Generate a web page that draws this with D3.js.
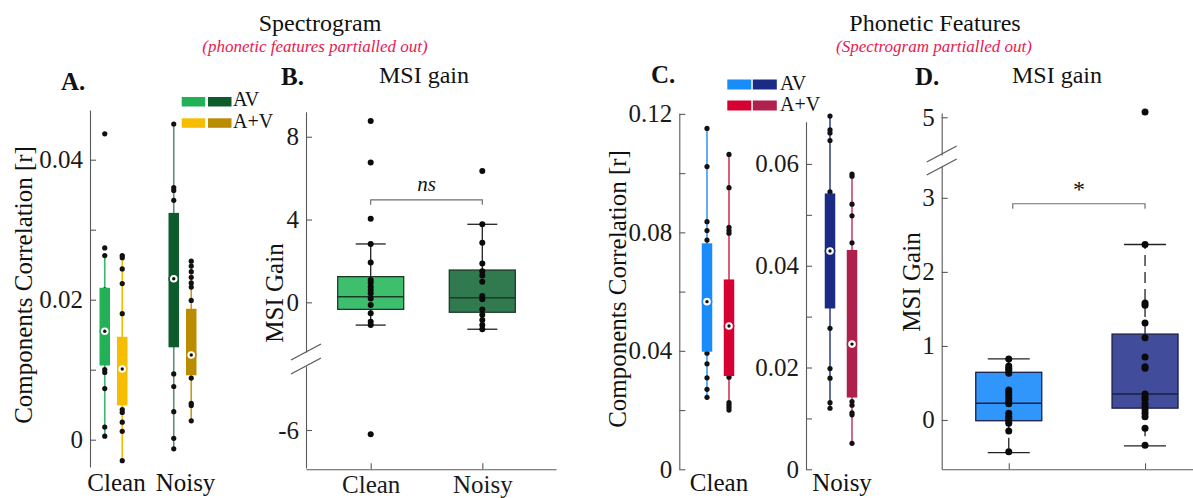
<!DOCTYPE html>
<html>
<head>
<meta charset="utf-8">
<script src="https://cdn.jsdelivr.net/npm/d3@7"></script>
<style>
  body { margin: 0; background: #fff; }
  svg { display: block; }
</style>
</head>
<body>
<svg id="fig" width="1193" height="498"></svg>
<script>
// ---- data ----
const conditions = ["Clean", "Noisy"];
const models = ["AV", "A+V"];

// box stats: [whisker low, q1, median, q3, whisker high]
// A. Spectrogram, components correlation
const specBoxCleanAV = [0.0005, 0.0106, 0.0155, 0.0217, 0.0265];
const specBoxCleanAplusV = [-0.0030, 0.0049, 0.0101, 0.0147, 0.0263];
const specBoxNoisyAV = [-0.0013, 0.0132, 0.0230, 0.0324, 0.0451];
const specBoxNoisyAplusV = [0.0027, 0.0092, 0.0121, 0.0187, 0.0255];
const specPtsCleanAV = [0.0437, 0.0274, 0.0263, 0.0214, 0.0190, 0.0170, 0.0140, 0.0120, 0.0100, 0.0096, 0.0073, 0.0018, 0.0005];
const specPtsCleanAplusV = [0.0263, 0.0260, 0.0244, 0.0223, 0.0180, 0.0130, 0.0110, 0.0080, 0.0060, 0.0043, 0.0039, 0.0025, 0.0012, -0.0030];
const specPtsNoisyAV = [0.0451, 0.0360, 0.0356, 0.0342, 0.0300, 0.0260, 0.0200, 0.0160, 0.0094, 0.0076, 0.0040, 0.0002, -0.0013];
const specPtsNoisyAplusV = [0.0255, 0.0248, 0.0240, 0.0232, 0.0224, 0.0218, 0.0199, 0.0160, 0.0130, 0.0088, 0.0052, 0.0049, 0.0027];

// B. Spectrogram, MSI gain
const specGainBoxClean = [-1.10, -0.34, 0.27, 1.24, 2.82];
const specGainBoxNoisy = [-1.30, -0.48, 0.22, 1.56, 3.77];
const specGainClean = [8.76, 6.76, 4.04, 2.82, 1.93, 1.08, 0.95, 0.75, 0.59, 0.43, 0.19, -0.13, -0.53, -0.94, -1.10, -6.2];
const specGainNoisy = [6.34, 3.77, 2.88, 1.88, 1.5, 1.3, 1.0, 0.3, 0.15, -0.35, -0.6, -0.85, -1.1, -1.3];

// C. Phonetic features, components correlation
const phonBoxCleanAV = [0.0243, 0.0397, 0.0566, 0.0763, 0.1151];
const phonBoxCleanAplusV = [0.0200, 0.0315, 0.0484, 0.0641, 0.1063];
const phonBoxNoisyAV = [0.0120, 0.0316, 0.0429, 0.0542, 0.0694];
const phonBoxNoisyAplusV = [0.0051, 0.0141, 0.0246, 0.0431, 0.0580];
const phonPtsCleanAV = [0.1151, 0.1022, 0.0836, 0.0806, 0.0774, 0.0650, 0.0520, 0.0392, 0.0356, 0.0309, 0.0270, 0.0243];
const phonPtsCleanAplusV = [0.1063, 0.0951, 0.0817, 0.0806, 0.0797, 0.0560, 0.0420, 0.0311, 0.0225, 0.0217, 0.0209, 0.0200];
const phonPtsNoisyAV = [0.0694, 0.0667, 0.0661, 0.0646, 0.0545, 0.0480, 0.0380, 0.0277, 0.0198, 0.0179, 0.0131, 0.0120];
const phonPtsNoisyAplusV = [0.0580, 0.0576, 0.0521, 0.0498, 0.0445, 0.0350, 0.0200, 0.0133, 0.0126, 0.0111, 0.0107, 0.0051];

// D. Phonetic features, MSI gain
const phonGainBoxClean = [-0.44, -0.01, 0.225, 0.644, 0.824];
const phonGainBoxNoisy = [-0.35, 0.16, 0.35, 1.16, 2.37];
const phonGainClean = [0.824, 0.73, 0.70, 0.67, 0.63, 0.405, 0.37, 0.33, 0.29, 0.25, 0.22, 0.09, 0.05, 0.02, -0.01, -0.045, -0.15, -0.43];
const phonGainNoisy = [5.07, 2.37, 1.58, 1.55, 1.31, 1.11, 0.85, 0.72, 0.70, 0.35, 0.31, 0.28, 0.22, 0.18, 0.135, 0.09, 0.045, -0.11, -0.34];

// ---- drawing ----
const FONT = '"Liberation Serif","Times New Roman",serif';
const AXIS = "#5a5a5a";
const svg = d3.select("#fig").attr("font-family", FONT);

function styleAxis(g) {
  g.attr("font-family", FONT).attr("font-size", 25);
  g.selectAll(".domain, .tick line").attr("stroke", AXIS).attr("stroke-width", 1.1);
  g.selectAll(".tick text").attr("fill", "#1a1a1a");
}

function leftAxis(scale, x, ticks, labeled) {
  const g = svg.append("g")
    .attr("transform", `translate(${x},0)`)
    .call(d3.axisLeft(scale).tickValues(ticks).tickSize(-6).tickSizeOuter(0).tickPadding(7)
      .tickFormat((d) => (labeled.includes(d) ? String(d) : "")));
  styleAxis(g);
  return g;
}

function bottomAxis(scale, y, labels) {
  const g = svg.append("g")
    .attr("transform", `translate(0,${y})`)
    .call(d3.axisBottom(scale).tickSize(-6).tickSizeOuter(0).tickPadding(8)
      .tickFormat((d) => (labels ? d : "")));
  styleAxis(g);
  g.selectAll(".tick text").attr("dy", "0.62em");
  return g;
}

function text(x, y, str, opts = {}) {
  return svg.append("text")
    .attr("x", x).attr("y", y)
    .attr("text-anchor", opts.anchor || "middle")
    .attr("font-size", opts.size || 25)
    .attr("font-weight", opts.weight || null)
    .attr("font-style", opts.style || null)
    .attr("fill", opts.fill || "#111")
    .text(str);
}

function yLabel(x, y, str) {
  svg.append("text")
    .attr("transform", `translate(${x},${y}) rotate(-90)`)
    .attr("text-anchor", "middle")
    .attr("font-size", 25)
    .attr("fill", "#111")
    .text(str);
}

function axisBreak(x, y) {
  svg.append("line")
    .attr("x1", x - 15).attr("y1", y + 8)
    .attr("x2", x + 15).attr("y2", y - 8)
    .attr("stroke", AXIS).attr("stroke-width", 1.2);
}

// compact style boxplot (thick bar, ring median)
function drawCompact(rows, xMain, xSub, yFor, colors, whisk) {
  rows.forEach((r) => {
    const y = yFor(r.cond);
    const cx = xMain(r.cond) + xSub(r.model);
    const key = r.cond + r.model;
    const [lo, q1, med, q3, hi] = r.box;
    svg.append("line")
      .attr("x1", cx).attr("x2", cx).attr("y1", y(lo)).attr("y2", y(hi))
      .attr("stroke", whisk[key]).attr("stroke-width", 1.6);
    svg.append("g").selectAll("circle").data(r.pts).join("circle")
      .attr("cx", cx).attr("cy", (d) => y(d)).attr("r", 2.6).attr("fill", "#111");
    svg.append("rect")
      .attr("x", cx - 5.25).attr("width", 10.5)
      .attr("y", y(q3)).attr("height", y(q1) - y(q3))
      .attr("fill", colors[key]);
    svg.append("circle").attr("cx", cx).attr("cy", y(med)).attr("r", 4.6)
      .attr("fill", "#fff").attr("stroke", colors[key]).attr("stroke-width", 1.6);
    svg.append("circle").attr("cx", cx).attr("cy", y(med)).attr("r", 1.7).attr("fill", "#111");
  });
}

// classic boxplot with caps
function drawClassic(rows, x, y, fills, stroke, boxW, capW, dash, pr) {
  rows.forEach((r) => {
    const cx = x(r.cond);
    const [lo, q1, med, q3, hi] = r.box;
    const wl = svg.append("g").attr("stroke", "#222").attr("stroke-width", 1.3);
    wl.append("line").attr("x1", cx).attr("x2", cx).attr("y1", y(q3)).attr("y2", y(hi)).attr("stroke-dasharray", dash);
    wl.append("line").attr("x1", cx).attr("x2", cx).attr("y1", y(q1)).attr("y2", y(lo)).attr("stroke-dasharray", dash);
    wl.append("line").attr("x1", cx - capW / 2).attr("x2", cx + capW / 2).attr("y1", y(hi)).attr("y2", y(hi));
    wl.append("line").attr("x1", cx - capW / 2).attr("x2", cx + capW / 2).attr("y1", y(lo)).attr("y2", y(lo));
    svg.append("rect")
      .attr("x", cx - boxW / 2).attr("width", boxW)
      .attr("y", y(q3)).attr("height", y(q1) - y(q3))
      .attr("fill", fills[r.cond]).attr("stroke", stroke).attr("stroke-width", 1.3);
    svg.append("line")
      .attr("x1", cx - boxW / 2).attr("x2", cx + boxW / 2).attr("y1", y(med)).attr("y2", y(med))
      .attr("stroke", stroke).attr("stroke-width", 1.4);
    svg.append("g").selectAll("circle").data(r.pts).join("circle")
      .attr("cx", cx).attr("cy", (d) => y(d)).attr("r", pr).attr("fill", "#0a0a0a");
  });
}

function bracket(x1, x2, yv, label, italic) {
  const g = svg.append("g").attr("stroke", "#707070").attr("stroke-width", 1.2).attr("fill", "none");
  g.append("path").attr("d", `M${x1},${yv + 5}V${yv}H${x2}V${yv + 5}`);
  text((x1 + x2) / 2, yv - (italic ? 9 : 7), label, { size: italic ? 21 : 24, style: italic ? "italic" : null });
}

// ---------- headers ----------
text(320, 31, "Spectrogram", { size: 24 });
text(315, 52, "(phonetic features partialled out)", { size: 17, style: "italic", fill: "#e8194f" });
text(935, 31, "Phonetic Features", { size: 24 });
text(934, 52, "(Spectrogram partialled out)", { size: 17, style: "italic", fill: "#e8194f" });

// ---------- Panel A ----------
const yA = d3.scaleLinear().domain([-0.0039, 0.0471]).range([467, 110]);
const xA = d3.scalePoint().domain(conditions).range([113.5, 182.5]);
const xAsub = d3.scalePoint().domain(models).range([-8.75, 8.75]);
leftAxis(yA, 90, [0, 0.01, 0.02, 0.03, 0.04], [0, 0.02, 0.04]);
const specRows = [
  { cond: "Clean", model: "AV", box: specBoxCleanAV, pts: specPtsCleanAV },
  { cond: "Clean", model: "A+V", box: specBoxCleanAplusV, pts: specPtsCleanAplusV },
  { cond: "Noisy", model: "AV", box: specBoxNoisyAV, pts: specPtsNoisyAV },
  { cond: "Noisy", model: "A+V", box: specBoxNoisyAplusV, pts: specPtsNoisyAplusV },
];
const specColors = { CleanAV: "#22b157", "CleanA+V": "#f7bd00", NoisyAV: "#0e5c2c", "NoisyA+V": "#bb8c00" };
const specWhisk = { CleanAV: "#3bb66a", "CleanA+V": "#f0c000", NoisyAV: "#5f8e7e", "NoisyA+V": "#c59a10" };
drawCompact(specRows, xA, xAsub, () => yA, specColors, specWhisk);
conditions.forEach((c) => text(xA(c) + 3, 491, c));
yLabel(32, 285, "Components Correlation [r]");
text(61, 90, "A.", { anchor: "start", size: 25, weight: "bold" });
// legend A
models.forEach((m, i) => {
  conditions.forEach((c, j) => {
    svg.append("rect").attr("x", 181.7 + j * 26.3).attr("y", 97 + i * 21.3)
      .attr("width", 23.5).attr("height", 9.5).attr("fill", specColors[c + m]);
  });
  text(233, 106 + i * 21.5, m, { anchor: "start", size: 20 });
});

// ---------- Panel B ----------
const xB = d3.scalePoint().domain(conditions).range([306, 556]).padding(0.62).align(0.4675);
const yBtop = d3.scaleLinear().domain([-2.4, 9.21]).range([352, 111.7]);
const yBbot = d3.scaleLinear().domain([-7.84, -2.9]).range([468, 366]);
const yB = (v) => (v > -2.6 ? yBtop(v) : yBbot(v));
leftAxis(yBtop, 306, [0, 4, 8], [0, 4, 8]);
leftAxis(yBbot, 306, [-6], [-6]);
axisBreak(306, 352);
axisBreak(306, 366);
bottomAxis(xB, 469.3, true);
drawClassic(
  [
    { cond: "Clean", box: specGainBoxClean, pts: specGainClean },
    { cond: "Noisy", box: specGainBoxNoisy, pts: specGainNoisy },
  ],
  xB, yB, { Clean: "#3dbf6e", Noisy: "#317a4f" }, "#1d3a29", 66, 30, null, 3
);
bracket(xB("Clean"), xB("Noisy"), yB(4.95), "ns", true);
yLabel(283, 293, "MSI Gain");
text(424, 83, "MSI gain", { size: 24 });
text(281, 85, "B.", { anchor: "start", size: 25, weight: "bold" });

// ---------- Panel C ----------
const yCleft = d3.scaleLinear().domain([0, 0.1202]).range([469.3, 113.3]);
const yCright = d3.scaleLinear().domain([0, 0.0683]).range([469.3, 121.7]);
const xC = d3.scalePoint().domain(conditions).range([718, 841]);
const xCsub = d3.scalePoint().domain(models).range([-11, 11]);
leftAxis(yCleft, 679.3, [0, 0.02, 0.04, 0.06, 0.08, 0.1, 0.12], [0, 0.04, 0.08, 0.12]);
leftAxis(yCright, 806, [0, 0.01, 0.02, 0.03, 0.04, 0.05, 0.06], [0, 0.02, 0.04, 0.06]);
const phonRows = [
  { cond: "Clean", model: "AV", box: phonBoxCleanAV, pts: phonPtsCleanAV },
  { cond: "Clean", model: "A+V", box: phonBoxCleanAplusV, pts: phonPtsCleanAplusV },
  { cond: "Noisy", model: "AV", box: phonBoxNoisyAV, pts: phonPtsNoisyAV },
  { cond: "Noisy", model: "A+V", box: phonBoxNoisyAplusV, pts: phonPtsNoisyAplusV },
];
const phonColors = { CleanAV: "#198cfa", "CleanA+V": "#d60032", NoisyAV: "#1a2a85", "NoisyA+V": "#b0204d" };
const phonWhisk = { CleanAV: "#3a98f5", "CleanA+V": "#d8335a", NoisyAV: "#3b4a8c", "NoisyA+V": "#c4486c" };
drawCompact(phonRows, xC, xCsub, (c) => (c === "Clean" ? yCleft : yCright), phonColors, phonWhisk);
conditions.forEach((c) => text(xC(c) + 1, 491, c));
yLabel(626, 289, "Components Correlation [r]");
text(651, 83, "C.", { anchor: "start", size: 25, weight: "bold" });
models.forEach((m, i) => {
  conditions.forEach((c, j) => {
    svg.append("rect").attr("x", 727.3 + j * 25.5).attr("y", 79.5 + i * 21)
      .attr("width", 24).attr("height", 10).attr("fill", phonColors[c + m]);
  });
  text(780, 89.5 + i * 21.5, m, { anchor: "start", size: 20 });
});

// ---------- Panel D ----------
const xD = d3.scalePoint().domain(conditions).range([941.7, 1193]).padding(0.422).align(0.583);
const yDtop = d3.scaleLinear().domain([4.49, 5.058]).range([155, 113]);
const yDbot = d3.scaleLinear().domain([-0.666, 3.43]).range([469.3, 166]);
const yD = (v) => (v > 4 ? yDtop(v) : yDbot(v));
leftAxis(yDtop, 941.7, [5], [5]);
leftAxis(yDbot, 941.7, [0, 1, 2, 3], [0, 1, 2, 3]);
axisBreak(941.7, 154);
axisBreak(941.7, 167);
bottomAxis(xD, 469.3, false);
drawClassic(
  [
    { cond: "Clean", box: phonGainBoxClean, pts: phonGainClean },
    { cond: "Noisy", box: phonGainBoxNoisy, pts: phonGainNoisy },
  ],
  xD, yD, { Clean: "#3096fb", Noisy: "#414c9a" }, "#1b1f45", 66, 42, "11,6", 3.5
);
bracket(xD("Clean") + 4, xD("Noisy"), yD(2.92), "*", false);
yLabel(920, 282, "MSI Gain");
text(1057, 83, "MSI gain", { size: 24 });
text(915, 85, "D.", { anchor: "start", size: 25, weight: "bold" });
</script>
</body>
</html>
